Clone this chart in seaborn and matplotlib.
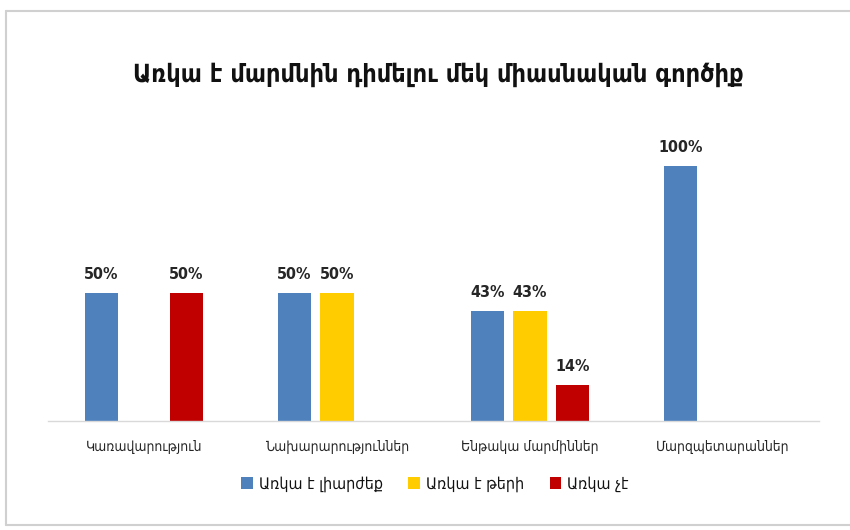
import matplotlib
matplotlib.use("Agg")
import matplotlib.pyplot as plt
from matplotlib.lines import Line2D
from matplotlib.patches import Patch
import numpy as np
import pandas as pd
import seaborn as sns

title = "Առկա է մարմնին դիմելու մեկ միասնական գործիք"
categories = ["Կառավարություն", "Նախարարություններ", "Ենթակա մարմիններ", "Մարզպետարաններ"]
series = ["Առկա է լիարժեք", "Առկա է թերի", "Առկա չէ"]
full = [50, 50, 43, 100]
partial = [np.nan, 50, 43, np.nan]
absent = [50, np.nan, 14, np.nan]
colors = ["#4F81BD", "#FFCC00", "#C00000"]

rows = []
for name, vals in zip(series, [full, partial, absent]):
    for cat, v in zip(categories, vals):
        if not np.isnan(v):
            rows.append({"category": cat, "series": name, "value": v})
df = pd.DataFrame(rows)

sns.set_theme(style="white")
plt.rcParams["font.family"] = ["DejaVu Sans"]

fig = plt.figure(figsize=(8.5, 5.3), dpi=100)
ax = fig.add_axes([0.0559, 0.2057, 0.9082, 0.53])

sns.barplot(data=df, x="category", y="value", hue="series",
            order=categories, hue_order=series, palette=colors,
            width=0.66, gap=0.22, saturation=1, linewidth=0,
            legend=False, ax=ax)

for c in ax.containers:
    ax.bar_label(c, fmt="%.0f%%", padding=8, fontsize=11.5, fontweight="bold",
                 color="#262626", fontstretch="condensed")

ax.set_ylim(0, 110)
ax.set_xlim(-0.5, 3.5)
ax.set_xlabel("")
ax.set_ylabel("")
ax.set_yticks([])
for s in ["top", "right", "left"]:
    ax.spines[s].set_visible(False)
ax.spines["bottom"].set_color("#D9D9D9")
ax.spines["bottom"].set_linewidth(1)
ax.tick_params(axis="x", length=0, pad=14, labelsize=10, labelcolor="#262626")
for t in ax.get_xticklabels():
    t.set_fontstretch("condensed")

fig.text(438 / 850, 1 - 75 / 530, title, ha="center", va="center",
         fontsize=18, fontweight="bold", color="#111111", fontstretch="condensed")

handles = [Patch(facecolor=c, edgecolor="none") for c in colors]
leg = fig.legend(handles, series, loc="center", bbox_to_anchor=(435 / 850, 1 - 484 / 530),
                 ncol=3, frameon=False, handlelength=0.7, handleheight=0.7,
                 handletextpad=0.4, columnspacing=1.6,
                 prop={"size": 11.5, "stretch": "condensed"})
for t in leg.get_texts():
    t.set_color("#111111")

# light frame around the chart area (open on the right)
x0, x1 = 6 / 850, 1.0
y0, y1 = 1 - 525 / 530, 1 - 11 / 530
for xs, ys in [((x0, x1), (y1, y1)), ((x0, x0), (y0, y1)), ((x0, x1), (y0, y0))]:
    fig.add_artist(Line2D(xs, ys, transform=fig.transFigure,
                          color="#D0D0D0", linewidth=1.5))

fig.savefig("out.png", dpi=100, facecolor="white")
